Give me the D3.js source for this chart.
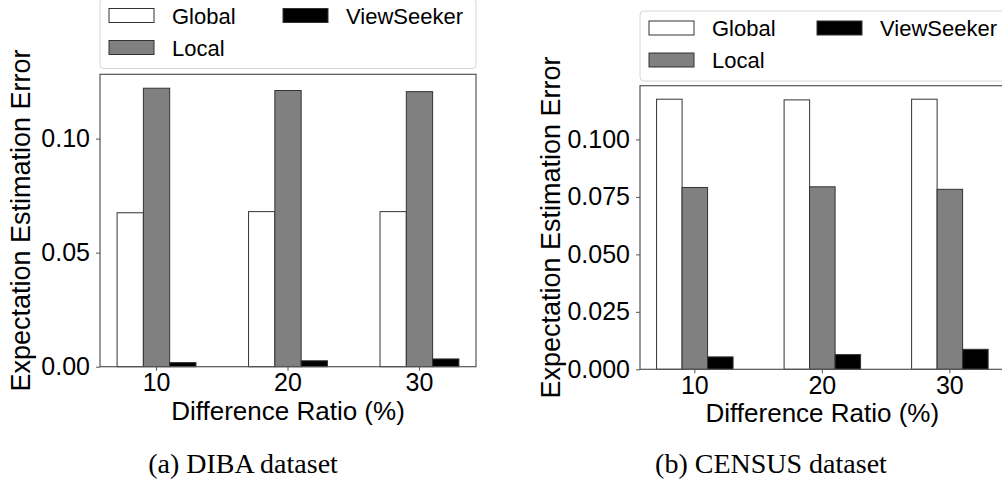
<!DOCTYPE html>
<html>
<head>
    <meta charset="utf-8">
    <title>Expectation Estimation Error</title>
    <script src="https://d3js.org/d3.v7.min.js"></script>
    <style>
        body { margin: 0; background: white; }
        svg { display: block; }
        .tick text { font-family: "Liberation Sans", Arial, sans-serif; font-size: 25px; fill: #000; }
        .lbl { font-family: "Liberation Sans", Arial, sans-serif; font-size: 26px; fill: #000; }
        .ylbl { font-size: 27px; }
        .leg { font-family: "Liberation Sans", Arial, sans-serif; font-size: 22px; fill: #000; }
        .cap { font-family: "Liberation Serif", "Times New Roman", serif; font-size: 28px; fill: #000; }
    </style>
</head>
<body>
<div id="chart"></div>
<script>
    // data
    let ratios = ["10", "20", "30"];
    let series = ["Global", "Local", "ViewSeeker"];
    let colors = ["#ffffff", "#808080", "#000000"];

    let dibaGlobal = [0.0675, 0.0680, 0.0680];
    let dibaLocal = [0.1221, 0.1211, 0.1206];
    let dibaViewSeeker = [0.0018, 0.0026, 0.0034];

    let censusGlobal = [0.1175, 0.1172, 0.1175];
    let censusLocal = [0.0791, 0.0794, 0.0783];
    let censusViewSeeker = [0.0054, 0.0064, 0.0087];

    let dibaTicks = [0, 0.05, 0.10];
    let censusTicks = [0, 0.025, 0.05, 0.075, 0.10];

    let svg = d3.select("#chart").append("svg")
        .attr("width", 1002)
        .attr("height", 486);

    function drawPanel(p) {
        let rows = [p.g, p.l, p.v];
        let ymax = d3.max(rows, (r) => d3.max(r)) * 1.05;

        let x0 = d3.scaleBand()
            .domain(ratios)
            .range([p.left, p.right])
            .paddingInner(0.4)
            .paddingOuter(0.13);
        let x1 = d3.scaleBand()
            .domain(series)
            .range([0, x0.bandwidth()]);
        let y = d3.scaleLinear()
            .domain([0, ymax])
            .range([p.bottom, p.top]);

        let g = svg.append("g");

        // bars
        series.forEach((s, si) => {
            g.selectAll(null)
                .data(ratios.map((r, i) => ({ r: r, v: rows[si][i] })))
                .enter()
                .append("rect")
                .attr("x", (d) => x0(d.r) + x1(s))
                .attr("y", (d) => y(d.v))
                .attr("width", x1.bandwidth())
                .attr("height", (d) => y(0) - y(d.v))
                .attr("fill", colors[si])
                .attr("stroke", "#333")
                .attr("stroke-width", 1);
        });

        // frame
        g.append("rect")
            .attr("x", p.left)
            .attr("y", p.top)
            .attr("width", p.right - p.left)
            .attr("height", p.bottom - p.top)
            .attr("fill", "none")
            .attr("stroke", "#555")
            .attr("stroke-width", 1.2);

        let xAxis = d3.axisBottom(x0).tickSize(4).tickPadding(3);
        let gx = g.append("g")
            .attr("transform", "translate(0," + p.bottom + ")")
            .call(xAxis);
        gx.select(".domain").remove();
        gx.selectAll(".tick line").attr("stroke", "#555");

        let yAxis = d3.axisLeft(y).tickValues(p.ticks).tickFormat(d3.format(p.fmt)).tickSize(4).tickPadding(6);
        let gy = g.append("g")
            .attr("transform", "translate(" + p.left + ",0)")
            .call(yAxis);
        gy.select(".domain").remove();
        gy.selectAll(".tick line").attr("stroke", "#555");

        // axis titles
        g.append("text")
            .attr("class", "lbl")
            .attr("text-anchor", "middle")
            .attr("x", (p.left + p.right) / 2)
            .attr("y", p.bottom + 53)
            .text("Difference Ratio (%)");

        g.append("text")
            .attr("class", "lbl ylbl")
            .attr("text-anchor", "middle")
            .attr("transform", "translate(" + p.ylabX + "," + (p.top + p.bottom) / 2 + ") rotate(-90)")
            .text("Expectation Estimation Error");

        // legend
        let lg = g.append("g");
        lg.append("rect")
            .attr("x", p.left)
            .attr("y", p.legTop)
            .attr("width", p.right - p.left)
            .attr("height", 70)
            .attr("rx", 4)
            .attr("fill", "white")
            .attr("fill-opacity", 0.8)
            .attr("stroke", "#d6d6d6");
        let pos = [[0, 0], [0, 1], [1, 0]];
        series.forEach((s, si) => {
            let lx = p.left + 9 + pos[si][0] * p.col2;
            let ly = p.legTop + 17 + pos[si][1] * 32;
            lg.append("rect")
                .attr("x", lx)
                .attr("y", ly - 7)
                .attr("width", 45)
                .attr("height", 14)
                .attr("fill", colors[si])
                .attr("stroke", "#333");
            lg.append("text")
                .attr("class", "leg")
                .attr("x", lx + 63)
                .attr("y", ly + 8)
                .text(s);
        });

        // caption
        svg.append("text")
            .attr("class", "cap")
            .attr("text-anchor", "middle")
            .attr("x", p.capX)
            .attr("y", 473)
            .text(p.caption);
    }

    drawPanel({
        g: dibaGlobal, l: dibaLocal, v: dibaViewSeeker,
        ticks: dibaTicks, fmt: ".2f",
        left: 100, right: 476, top: 74.3, bottom: 366.7,
        ylabX: 30, legTop: -1.5, col2: 174,
        capX: 243, caption: "(a) DIBA dataset"
    });

    drawPanel({
        g: censusGlobal, l: censusLocal, v: censusViewSeeker,
        ticks: censusTicks, fmt: ".3f",
        left: 640, right: 1004.7, top: 85.7, bottom: 369.3,
        ylabX: 560, legTop: 11, col2: 168,
        capX: 771, caption: "(b) CENSUS dataset"
    });
</script>
</body>
</html>
